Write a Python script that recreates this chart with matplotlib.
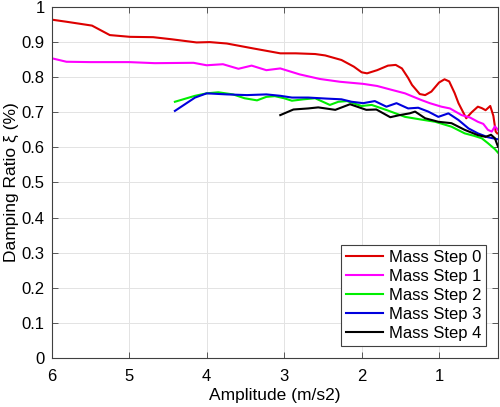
import numpy as np
import matplotlib
matplotlib.use('Agg')
import matplotlib.pyplot as plt

plt.rcParams['font.family'] = ['Liberation Sans', 'DejaVu Sans']

# Mass Step 0
x0 = [6.0, 5.81, 5.48, 5.25, 4.99, 4.69, 4.45, 4.13, 3.96, 3.74, 3.40, 3.05, 2.85, 2.6,
      2.47, 2.26, 2.1, 2.0, 1.93, 1.8, 1.66, 1.56, 1.48, 1.40, 1.35, 1.25, 1.18, 1.10,
      1.00, 0.93, 0.87, 0.80, 0.75, 0.65, 0.58, 0.50, 0.45, 0.40, 0.34, 0.30, 0.27, 0.25]
y0 = [0.964, 0.958, 0.947, 0.920, 0.915, 0.914, 0.908, 0.899, 0.900, 0.896, 0.882, 0.868,
      0.868, 0.866, 0.862, 0.849, 0.83, 0.814, 0.811, 0.82, 0.833, 0.835, 0.825, 0.798,
      0.778, 0.752, 0.749, 0.759, 0.785, 0.794, 0.788, 0.755, 0.726, 0.683, 0.70, 0.716,
      0.712, 0.706, 0.718, 0.69, 0.645, 0.64]

# Mass Step 1
x1 = [6.0, 5.81, 5.5, 5.0, 4.67, 4.17, 4.0, 3.79, 3.59, 3.42, 3.23, 3.05, 2.8, 2.54,
      2.28, 1.98, 1.8, 1.63, 1.44, 1.33, 1.23, 1.12, 0.97, 0.86, 0.71, 0.60, 0.50, 0.43,
      0.37, 0.32, 0.28, 0.24]
y1 = [0.854, 0.844, 0.843, 0.843, 0.840, 0.841, 0.834, 0.837, 0.824, 0.833, 0.820, 0.825,
      0.808, 0.795, 0.787, 0.781, 0.775, 0.765, 0.754, 0.744, 0.735, 0.726, 0.716, 0.711,
      0.692, 0.685, 0.673, 0.667, 0.65, 0.645, 0.66, 0.65]

# Mass Step 2
x2 = [4.41, 4.15, 4.0, 3.85, 3.66, 3.51, 3.35, 3.23, 3.12, 3.0, 2.90, 2.75, 2.60, 2.41,
      2.30, 2.19, 2.0, 1.87, 1.66, 1.44, 1.25, 1.05, 0.84, 0.67, 0.55, 0.45, 0.37, 0.28,
      0.24]
y2 = [0.730, 0.747, 0.754, 0.757, 0.751, 0.740, 0.734, 0.744, 0.746, 0.740, 0.733, 0.737,
      0.740, 0.721, 0.730, 0.732, 0.718, 0.721, 0.705, 0.687, 0.680, 0.673, 0.659, 0.640,
      0.633, 0.626, 0.612, 0.595, 0.585]

# Mass Step 3
x3 = [4.41, 4.15, 4.0, 3.74, 3.48, 3.23, 3.05, 2.90, 2.69, 2.45, 2.26, 2.13, 1.98, 1.83,
      1.68, 1.55, 1.40, 1.27, 1.14, 1.01, 0.88, 0.75, 0.62, 0.50, 0.37, 0.24]
y3 = [0.704, 0.742, 0.754, 0.751, 0.749, 0.751, 0.747, 0.742, 0.742, 0.739, 0.737, 0.730,
      0.726, 0.732, 0.716, 0.726, 0.711, 0.713, 0.702, 0.687, 0.697, 0.678, 0.654, 0.640,
      0.629, 0.623]

# Mass Step 4
x4 = [3.05, 2.88, 2.69, 2.56, 2.34, 2.15, 1.94, 1.81, 1.63, 1.51, 1.38, 1.31, 1.18, 1.01,
      0.84, 0.67, 0.50, 0.40, 0.33, 0.28, 0.24]
y4 = [0.692, 0.708, 0.711, 0.714, 0.707, 0.723, 0.707, 0.708, 0.686, 0.692, 0.697, 0.702,
      0.683, 0.673, 0.669, 0.650, 0.635, 0.630, 0.636, 0.626, 0.602]

labels = ['Mass Step 0', 'Mass Step 1', 'Mass Step 2', 'Mass Step 3', 'Mass Step 4']
colors = ['#dd0000', '#ff00ff', '#00ee00', '#0000dd', '#000000']

fig = plt.figure(figsize=(5, 4.07), dpi=100)
ax = fig.add_axes([0.1034, 0.1204, 0.8926, 0.8624])

for xs, ys, lab, c in zip([x0, x1, x2, x3, x4], [y0, y1, y2, y3, y4], labels, colors):
    ax.plot(xs, ys, color=c, lw=1.5, label=lab)

ax.set_xlim(6, 0.24)
ax.set_ylim(0, 1)
ax.set_xticks([6, 5, 4, 3, 2, 1])
ax.set_yticks(np.arange(0, 1.01, 0.1))
ax.set_yticklabels(['0', '0.1', '0.2', '0.3', '0.4', '0.5', '0.6', '0.7', '0.8', '0.9', '1'])
ax.tick_params(direction='in', top=True, right=True, labelsize=12, length=4,
               width=0.6, color='#404040', pad=5)
ax.tick_params(axis='x', pad=8)
ax.grid(color='#e3e3e3', lw=0.7)
ax.set_axisbelow(True)
for s in ax.spines.values():
    s.set_color('#404040')
    s.set_linewidth(0.8)

ax.set_xlabel('Amplitude (m/s2)', fontsize=12.5, labelpad=3)
ax.set_ylabel('Damping Ratio ξ (%)', fontsize=12.5, labelpad=2)

leg = ax.legend(loc='lower right', fontsize=12, fancybox=False, framealpha=1,
                edgecolor='#404040', borderaxespad=0.7, labelspacing=0.25,
                handlelength=2.2, handletextpad=0.35, borderpad=0.3)
leg.get_frame().set_linewidth(0.8)

fig.savefig('out.png', dpi=100)
